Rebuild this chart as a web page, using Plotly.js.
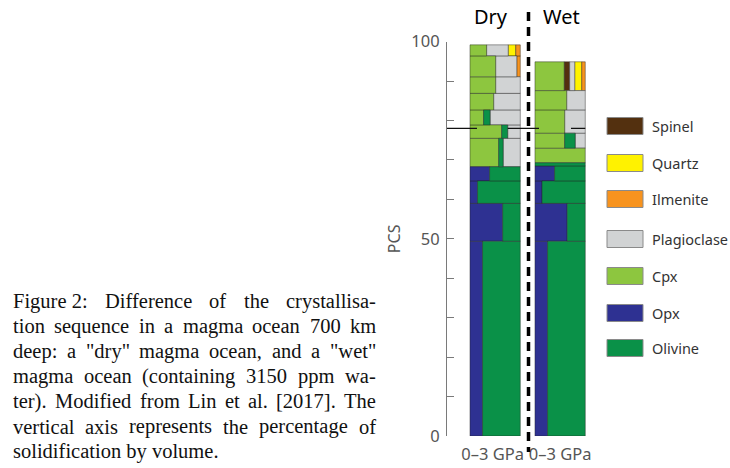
<!DOCTYPE html>
<html><head><meta charset="utf-8">
<script src="https://cdn.plot.ly/plotly-3.0.1.min.js"></script>
<style>html,body{margin:0;padding:0;background:#fff}</style>
</head><body><div id="chart" style="width:730px;height:468px"></div>
<script>
// ---------------- data ----------------
const minerals = ['Spinel','Quartz','Ilmenite','Plagioclase','Cpx','Opx','Olivine'];
const mineralColors = ['#53300f','#fff200','#f7931e','#d1d3d4','#8dc63f','#2e3192','#0a9148'];
const columns = ['Dry','Wet'];
const xTickLabels = ['0–3 GPa','0–3 GPa'];
const yTickValues = [0,10,20,30,40,50,60,70,80,90,100];
const yTickLabels = ['0','','','','','50','','','','','100'];
const yAxisTitle = 'PCS';

// layer top boundaries (PCS, %) — each layer starts at the previous top (first at 0)
const dryLayerTops = [49.4, 59.0, 64.7, 68.3, 75.5, 78.9, 82.7, 86.9, 91.1, 96.4, 99.2];
const wetLayerTops = [49.4, 59.0, 64.7, 68.5, 69.3, 73.0, 76.8, 82.7, 87.6, 94.9];

// mineral share of each layer (% of the column width)
const dryOpx         = [25, 65, 15, 39,  0,  0,  0,  0,  0,  0,  0];
const dryCpx         = [ 0,  0,  0,  0, 57, 63, 27, 47, 51, 51, 33];
const drySpinel      = [ 0,  0,  0,  0,  0,  0,  0,  0,  0,  0,  0];
const dryOlivine     = [75, 35, 85, 61,  9, 12, 13,  0,  0,  0,  0];
const dryPlagioclase = [ 0,  0,  0,  0, 34, 25, 60, 53, 49, 42, 43];
const dryQuartz      = [ 0,  0,  0,  0,  0,  0,  0,  0,  0,  0, 15];
const dryIlmenite    = [ 0,  0,  0,  0,  0,  0,  0,  0,  0,  7,  9];

const wetOpx         = [25, 64, 14, 39,   0,   0,  0,  0,  0,  0];
const wetCpx         = [ 0,  0,  0,  0,   0, 100, 59, 59, 63, 58];
const wetSpinel      = [ 0,  0,  0,  0,   0,   0,  0,  0,  0, 11];
const wetOlivine     = [75, 36, 86, 61, 100,   0, 21,  0,  0,  0];
const wetPlagioclase = [ 0,  0,  0,  0,   0,   0, 20, 41, 37, 10];
const wetQuartz      = [ 0,  0,  0,  0,   0,   0,  0,  0,  0, 14];
const wetIlmenite    = [ 0,  0,  0,  0,   0,   0,  0,  0,  0,  7];

const markerLevelPCS = 78.0;

const captionLines = [
  'Figure\u00a02:  Difference of the crystallisa-',
  'tion sequence in a magma ocean 700 km',
  'deep: a "dry" magma ocean, and a "wet"',
  'magma ocean (containing 3150 ppm wa-',
  'ter). Modified from Lin et al. [2017]. The',
  'vertical axis represents the percentage of',
  'solidification by volume.'
];

// ---------------- build ----------------
const W = 730, H = 468;
const px = v => v / W;
const py = v => 1 - v / H;

const stackOrder = ['Opx','Cpx','Spinel','Olivine','Plagioclase','Quartz','Ilmenite'];
const colData = [
  {tops: dryLayerTops, frac: {Opx: dryOpx, Cpx: dryCpx, Spinel: drySpinel, Olivine: dryOlivine, Plagioclase: dryPlagioclase, Quartz: dryQuartz, Ilmenite: dryIlmenite}},
  {tops: wetLayerTops, frac: {Opx: wetOpx, Cpx: wetCpx, Spinel: wetSpinel, Olivine: wetOlivine, Plagioclase: wetPlagioclase, Quartz: wetQuartz, Ilmenite: wetIlmenite}}
];
const colLeft = [0, 1.292];

const acc = {};
minerals.forEach(m => acc[m] = {x: [], y: [], base: [], width: []});
colData.forEach((cd, c) => {
  cd.tops.forEach((top, i) => {
    const bottom = i === 0 ? 0 : cd.tops[i - 1];
    let cum = 0;
    stackOrder.forEach(m => {
      const f = cd.frac[m][i] / 100;
      if (f > 0) {
        acc[m].x.push(colLeft[c] + cum + f / 2);
        acc[m].width.push(f);
        acc[m].base.push(bottom);
        acc[m].y.push(top - bottom);
        cum += f;
      }
    });
  });
});

const traces = minerals.map((m, k) => ({
  type: 'bar', name: m, x: acc[m].x, y: acc[m].y, base: acc[m].base, width: acc[m].width,
  marker: {color: mineralColors[k], line: {color: 'rgba(35,35,35,0.55)', width: 0.8}},
  showlegend: false, hoverinfo: 'name'
}));

const sansFont = '"Noto Sans", "Open Sans", sans-serif';
const shapes = [];
const annotations = [];

// dashed separator
shapes.push({type: 'line', xref: 'paper', yref: 'paper', x0: px(528.5), x1: px(528.5), y0: py(12), y1: py(452),
  line: {color: '#000', width: 3.5, dash: '9px,6px'}});

// horizontal marker segments at PCS level
[[-0.457, 0.139], [0.75, 1.372], [2.008, 2.292]].forEach(s => {
  shapes.push({type: 'line', xref: 'x', yref: 'y', x0: s[0], x1: s[1], y0: markerLevelPCS, y1: markerLevelPCS,
    line: {color: '#111', width: 1.2}});
});

// column titles
columns.forEach((name, c) => {
  annotations.push({text: name, xref: 'x', yref: 'paper', x: colLeft[c] + (c === 0 ? 0.42 : 0.53), y: py(17),
    xanchor: 'center', yanchor: 'middle', showarrow: false, font: {family: sansFont, size: 20, color: '#000'}});
});

// custom legend
const legendY = [126, 163, 199, 239, 276, 313, 348];
minerals.forEach((m, k) => {
  shapes.push({type: 'rect', xref: 'paper', yref: 'paper', x0: px(607), x1: px(643),
    y0: py(legendY[k] - 8.5), y1: py(legendY[k] + 8.5), fillcolor: mineralColors[k], line: {color: '#8a8a8a', width: 1}});
  annotations.push({text: m, xref: 'paper', yref: 'paper', x: px(650), y: py(legendY[k]), xanchor: 'left', yanchor: 'middle',
    showarrow: false, font: {family: sansFont, size: 14.5, color: '#333'}});
});

// caption (justified)
const serifName = 'Liberation Serif';
const serif = '"Liberation Serif", "Times New Roman", serif';
const cv = document.createElement('canvas').getContext('2d');
const capLeft = 12, capRight = 375, capW = capRight - capLeft;
let capSize = 20.5;
const measure = (t, s) => { cv.font = s + 'px "' + serifName + '"'; return cv.measureText(t).width; };
for (;;) {
  let ok = true;
  captionLines.slice(0, -1).forEach(l => {
    const words = l.split(/ +/);
    const sum = words.reduce((a, w) => a + measure(w, capSize), 0);
    if ((capW - sum) / (words.length - 1) < capSize * 0.2) ok = false;
  });
  if (ok || capSize < 12) break;
  capSize -= 0.25;
}
captionLines.forEach((l, i) => {
  const yc = py(301 + 25.1 * i);
  if (i === captionLines.length - 1) {
    annotations.push({text: l, xref: 'paper', yref: 'paper', x: px(capLeft), y: yc, xanchor: 'left', yanchor: 'middle',
      showarrow: false, borderpad: 0, font: {family: serif, size: capSize, color: '#111'}});
    return;
  }
  const words = l.split(/ +/);
  const widths = words.map(w => measure(w, capSize));
  const sum = widths.reduce((a, b) => a + b, 0);
  const gap = (capW - sum) / (words.length - 1);
  let xx = capLeft;
  words.forEach((w, j) => {
    annotations.push({text: w, xref: 'paper', yref: 'paper', x: px(xx), y: yc, xanchor: 'left', yanchor: 'middle',
      showarrow: false, borderpad: 0, font: {family: serif, size: capSize, color: '#111'}});
    xx += widths[j] + gap;
  });
});

const layout = {
  width: W, height: H, margin: {l: 0, r: 0, t: 0, b: 0},
  paper_bgcolor: '#fff', plot_bgcolor: 'rgba(0,0,0,0)',
  barmode: 'overlay', showlegend: false,
  xaxis: {domain: [px(447), px(590)], range: [-0.457, 2.386], showgrid: false, zeroline: false, showline: false,
    tickmode: 'array', tickvals: [colLeft[0] + 0.45, colLeft[1] + 0.5], ticktext: xTickLabels, ticks: '',
    ticklabelstandoff: 6,
    tickfont: {family: sansFont, size: 16.5, color: '#555'}, fixedrange: true},
  yaxis: {domain: [py(436), py(41.7)], range: [0, 100], showgrid: false, zeroline: false,
    showline: true, linecolor: '#7a7a7a', linewidth: 1, ticks: 'inside', ticklen: 7, tickcolor: '#7a7a7a', tickwidth: 1,
    tickmode: 'array', tickvals: yTickValues, ticktext: yTickLabels, ticklabelstandoff: 3,
    tickfont: {family: sansFont, size: 16.5, color: '#555'},
    title: {text: yAxisTitle, font: {family: sansFont, size: 16, color: '#555'}, standoff: 6}, fixedrange: true},
  shapes: shapes, annotations: annotations
};
Plotly.newPlot('chart', traces, layout, {displayModeBar: false, staticPlot: true});
</script></body></html>
